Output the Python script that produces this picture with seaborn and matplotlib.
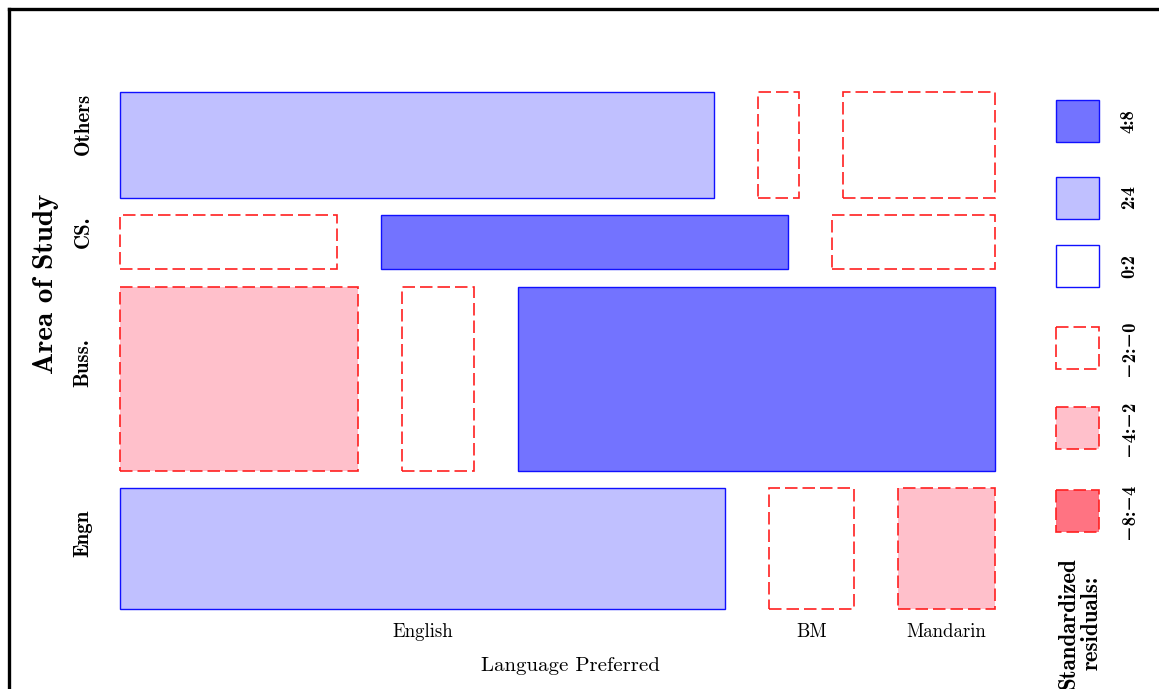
import numpy as np
import matplotlib
matplotlib.use("Agg")
import matplotlib.pyplot as plt
from matplotlib.patches import Rectangle
from matplotlib.lines import Line2D
import seaborn as sns

# Counts: Area of Study (rows, bottom to top) x Language Preferred (columns)
areas = ["Engn", "Buss.", "CS.", "Others"]
languages = ["English", "BM", "Mandarin"]
engn_counts = [50, 7, 8]
buss_counts = [30, 9, 60]
cs_counts = [8, 15, 6]
others_counts = [43, 3, 11]

# Shading bins for Pearson residuals
bin_edges = [-8, -4, -2, 0, 2, 4, 8]
bin_labels = ["\u22128:\u22124", "\u22124:\u22122", "\u22122:\u22120",
              "0:2", "2:4", "4:8"]
bin_fills = sns.color_palette(["#FF7382", "#FFC0CB", "#FFFFFF",
                               "#FFFFFF", "#C0C0FF", "#7373FF"])

sns.set_style("white")
plt.rcParams["text.color"] = "black"

BOLD = ["cmb10", "DejaVu Serif"]
ROMAN = ["cmr10", "DejaVu Serif"]

table = np.array([engn_counts, buss_counts, cs_counts, others_counts], dtype=float)
N = table.sum()
row_tot = table.sum(axis=1)
col_tot = table.sum(axis=0)
expected = np.outer(row_tot, col_tot) / N
resid = (table - expected) / np.sqrt(expected)


def bin_index(r):
    idx = np.searchsorted(bin_edges, r, side="right") - 1
    return int(np.clip(idx, 0, len(bin_fills) - 1))


def cell_style(k):
    if k >= 3:
        return dict(edgecolor="#1010FF", linestyle="-", linewidth=1.0)
    return dict(edgecolor="#FF2020", linestyle=(0, (7.5, 3.0)), linewidth=1.2)


W, H = 1159, 689
fig = plt.figure(figsize=(W / 100, H / 100), dpi=100)

# overlay in pixel coordinates for frame, titles and shading key
ov = fig.add_axes([0, 0, 1, 1])
ov.set_xlim(0, W)
ov.set_ylim(H, 0)
ov.axis("off")

# mosaic panel
x0, x1, y0, y1 = 120, 995, 92, 609
ax = fig.add_axes([x0 / W, 1 - y1 / H, (x1 - x0) / W, (y1 - y0) / H])
ax.set_xlim(0, 1)
ax.set_ylim(0, 1)
ax.axis("off")

gx = 44 / (x1 - x0)
gy = 17.3 / (y1 - y0)
avail_h = 1 - gy * (len(areas) - 1)
avail_w = 1 - gx * (len(languages) - 1)

label_shift = [15, 16, 11, 21]
yb = 0.0
for i, area in enumerate(areas):
    h = row_tot[i] / N * avail_h
    xl = 0.0
    for j, lang in enumerate(languages):
        w = table[i, j] / row_tot[i] * avail_w
        k = bin_index(resid[i, j])
        ax.add_patch(Rectangle((xl, yb), w, h, facecolor=bin_fills[k],
                               clip_on=False, **cell_style(k)))
        if i == 0:
            px = x0 + (xl + w / 2) * (x1 - x0)
            ov.text(px, 632, lang, family=ROMAN, fontsize=13.5,
                    ha="center", va="center")
        xl += w + gx
    py = y1 - (yb + h / 2) * (y1 - y0) - label_shift[i]
    ov.text(83, py, area, family=BOLD, fontsize=15, rotation=90,
            ha="center", va="center")
    yb += h + gy

ov.text(570, 666, "Language Preferred", family=ROMAN, fontsize=15,
        ha="center", va="center")
ov.text(46, 284, "Area of Study", family=BOLD, fontsize=21, rotation=90,
        ha="center", va="center")

# shading key (top = strongest positive)
key_tops = [490, 407, 327, 245, 176.5, 100]
for k, top in enumerate(key_tops):
    ov.add_patch(Rectangle((1056, top), 43, 42, facecolor=bin_fills[k],
                           **cell_style(k)))
    ov.text(1129, top + 21, bin_labels[k], family=BOLD, fontsize=13.5,
            rotation=90, ha="center", va="center")
ov.text(1080, 623, "Standardized\nresiduals:", family=BOLD, fontsize=16.5,
        rotation=90, ha="center", va="center", multialignment="center",
        linespacing=1.05)

# outer frame (top and left edges)
ov.add_line(Line2D([9, W + 5], [9, 9], color="black", linewidth=2.4,
                   solid_capstyle="projecting"))
ov.add_line(Line2D([9, 9], [9, H + 5], color="black", linewidth=2.4,
                   solid_capstyle="projecting"))

fig.savefig("out.png", dpi=100)
